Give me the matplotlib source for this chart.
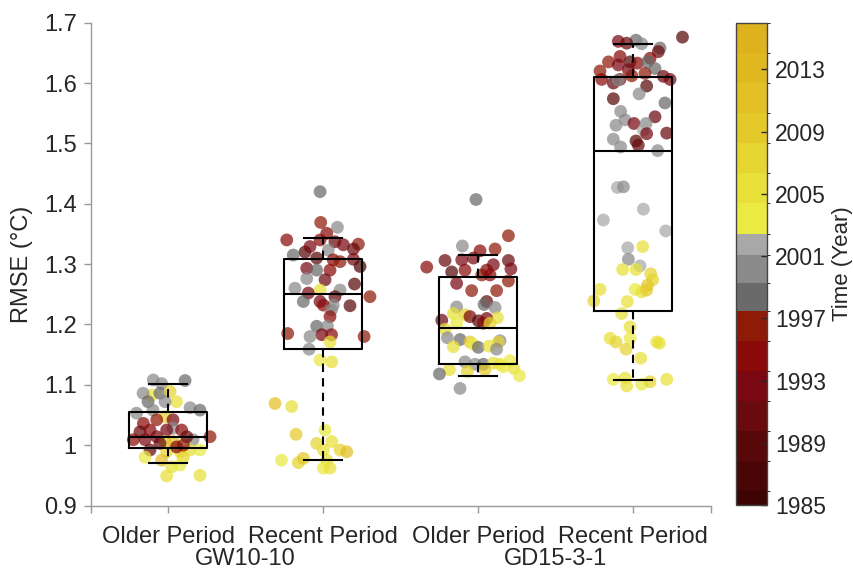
import numpy as np
import matplotlib.pyplot as plt
from matplotlib.colors import ListedColormap, BoundaryNorm
from matplotlib.cm import ScalarMappable

plt.rcParams['font.family'] = ['Liberation Sans', 'DejaVu Sans']

# Group names and tick labels
tick_labels = ['Older Period', 'Recent Period', 'Older Period', 'Recent Period']
site_names = ['GW10-10', 'GD15-3-1']

# Box statistics per group: lower whisker, q1, median, q3, upper whisker
whis_lo = [0.971, 0.975, 1.115, 1.108]
q1 = [0.995, 1.159, 1.134, 1.223]
med = [1.014, 1.250, 1.194, 1.488]
q3 = [1.055, 1.308, 1.278, 1.610]
whis_hi = [1.101, 1.343, 1.315, 1.665]

# Scatter points: horizontal jitter (x units), RMSE, year
g1_dx = [-0.095, -0.041, 0.110, -0.105, -0.161, -0.052, 0.013, -0.129, 0.055, -0.019,
         0.142, 0.206, -0.203, -0.097, -0.019, -0.159, -0.073, 0.032, 0.032, -0.116,
         -0.009, 0.088, -0.181, -0.224, -0.148, -0.073, 0.271, 0.161, 0.121, -0.019,
         0.032, -0.116, -0.009, 0.077, 0.142, 0.206, 0.098, -0.148, -0.041, 0.024,
         0.077, 0.206, -0.009, 0.099, 0.055, -0.052]
g1_y = [1.108, 1.102, 1.107, 1.083, 1.086, 1.086, 1.089, 1.072, 1.072, 1.072,
        1.062, 1.058, 1.053, 1.058, 1.047, 1.036, 1.042, 1.042, 1.028, 1.025,
        1.025, 1.025, 1.022, 1.009, 1.009, 1.014, 1.014, 1.009, 1.014, 1.006,
        1.006, 0.992, 0.989, 0.989, 0.992, 0.992, 0.980, 0.980, 0.975, 0.964,
        0.967, 0.950, 0.949, 1.000, 0.997, 1.003]
g1_yr = [2000, 2001, 1999, 2006, 2000, 1999, 2007, 1999, 2005, 2001,
         2000, 1999, 2001, 2000, 2008, 1994, 1996, 1992, 2000, 1995,
         1993, 1994, 1990, 1995, 1992, 1993, 1996, 2001, 1991, 2010,
         2012, 1990, 2008, 2006, 2005, 2004, 2007, 2004, 2011, 2005,
         2004, 2006, 2005, 1996, 1994, 1991]

g2_dx = [-0.019, -0.015, 0.093, 0.024, -0.234, -0.019, 0.077, 0.131, 0.228, -0.192,
         -0.116, -0.084, 0.034, 0.196, -0.041, 0.066, 0.196, 0.239, -0.105, -0.041,
         0.045, 0.110, -0.105, 0.013, 0.203, -0.181, -0.019, 0.110, -0.095, 0.077,
         0.303, -0.127, -0.019, 0.066, 0.174, 0.002, 0.055, 0.045, -0.041, 0.028,
         -0.228, -0.008, 0.055, -0.084, 0.265, 0.045, -0.090, -0.019, 0.056, -0.310,
         -0.202, -0.174, 0.013, -0.041, 0.056, 0.002, 0.110, 0.153, -0.268, -0.159,
         -0.127, 0.024, 0.002, 0.045]
g2_y = [1.420, 1.369, 1.361, 1.351, 1.340, 1.340, 1.337, 1.332, 1.333, 1.315,
        1.320, 1.329, 1.323, 1.325, 1.310, 1.307, 1.308, 1.296, 1.293, 1.290,
        1.290, 1.304, 1.276, 1.274, 1.267, 1.260, 1.257, 1.257, 1.252, 1.246,
        1.246, 1.238, 1.238, 1.232, 1.231, 1.232, 1.224, 1.213, 1.197, 1.197,
        1.185, 1.183, 1.183, 1.180, 1.180, 1.171, 1.159, 1.141, 1.138, 1.069,
        1.064, 1.018, 1.025, 1.003, 1.006, 0.992, 0.992, 0.989, 0.975, 0.971,
        0.978, 0.975, 0.962, 0.962]
g2_yr = [1998, 1996, 2001, 1995, 1994, 1994, 1990, 1993, 1996, 1999,
         1988, 1992, 2001, 1991, 1989, 1994, 1992, 1987, 1993, 1998,
         1995, 1996, 2001, 1990, 1989, 2001, 2005, 2001, 1993, 1991,
         1996, 1999, 1992, 2000, 1989, 1995, 2001, 1995, 1999, 2000,
         1996, 1992, 1994, 2000, 1996, 2006, 2001, 2004, 2005, 2011,
         2005, 2010, 2004, 2008, 2006, 2005, 2008, 2012, 2004, 2007,
         2009, 2005, 2004, 2006]

g3_dx = [-0.013, 0.196, -0.101, 0.013, 0.110, -0.213, -0.331, -0.105, -0.030, 0.056,
         0.099, 0.196, 0.212, -0.170, -0.084, 0.024, 0.077, 0.196, -0.138, -0.041,
         0.120, 0.056, 0.039, -0.138, 0.110, -0.159, -0.084, -0.052, 0.125, -0.234,
         0.002, 0.056, -0.138, 0.034, 0.077, -0.213, -0.198, -0.116, -0.052, -0.030,
         0.142, 0.131, -0.159, 0.002, 0.071, 0.120, -0.084, -0.019, 0.034, 0.099,
         0.142, 0.206, -0.185, -0.069, 0.045, 0.163, 0.232, 0.267, -0.249, -0.116]
g3_y = [1.407, 1.347, 1.330, 1.322, 1.325, 1.306, 1.295, 1.307, 1.310, 1.290,
        1.299, 1.306, 1.292, 1.287, 1.290, 1.282, 1.282, 1.272, 1.268, 1.256,
        1.256, 1.238, 1.233, 1.229, 1.228, 1.218, 1.216, 1.213, 1.211, 1.207,
        1.206, 1.210, 1.202, 1.202, 1.202, 1.192, 1.178, 1.175, 1.171, 1.167,
        1.173, 1.171, 1.163, 1.162, 1.164, 1.159, 1.138, 1.134, 1.134, 1.136,
        1.134, 1.140, 1.125, 1.122, 1.125, 1.130, 1.127, 1.115, 1.118, 1.094]
g3_yr = [1999, 1996, 2000, 1994, 1996, 1990, 1994, 1992, 1993, 1995,
         1992, 1991, 1993, 1989, 1994, 1996, 1994, 1997, 1993, 1996,
         1996, 1990, 1998, 2000, 2000, 2005, 2007, 1992, 2006, 1991,
         1989, 1993, 2004, 1994, 2008, 2006, 2000, 1999, 2009, 2004,
         2000, 2007, 2005, 1999, 2006, 2001, 2001, 2000, 1999, 2005,
         2006, 2004, 2005, 2007, 2010, 2004, 2005, 2004, 1998, 2000]

g4_dx = [0.319, -0.095, 0.019, -0.041, 0.056, 0.174, 0.163, -0.084, 0.110, -0.158,
         -0.095, -0.019, 0.028, 0.093, -0.213, -0.030, 0.142, 0.077, -0.084, -0.202,
         -0.127, 0.196, 0.239, -0.008, -0.095, 0.088, 0.039, -0.127, 0.206, -0.080,
         0.142, -0.052, -0.110, 0.006, 0.084, 0.067, 0.088, 0.217, -0.127, 0.019,
         0.034, -0.080, 0.159, -0.101, -0.062, 0.067, -0.191, 0.211, -0.034, 0.062,
         -0.030, 0.045, -0.067, 0.019, 0.114, 0.127, 0.093, -0.213, 0.013, 0.056,
         0.088, -0.253, -0.037, -0.073, -0.019, -0.148, -0.110, -0.019, 0.153, 0.170,
         -0.045, 0.050, -0.127, -0.052, -0.041, 0.056, 0.110, 0.217]
g4_y = [1.676, 1.669, 1.671, 1.666, 1.665, 1.658, 1.652, 1.644, 1.641, 1.635,
        1.630, 1.635, 1.633, 1.635, 1.620, 1.622, 1.624, 1.616, 1.606, 1.606,
        1.600, 1.611, 1.606, 1.612, 1.605, 1.595, 1.582, 1.574, 1.567, 1.553,
        1.544, 1.539, 1.530, 1.533, 1.533, 1.522, 1.516, 1.517, 1.507, 1.504,
        1.497, 1.494, 1.488, 1.427, 1.428, 1.391, 1.373, 1.355, 1.327, 1.329,
        1.308, 1.297, 1.291, 1.291, 1.284, 1.274, 1.265, 1.258, 1.258, 1.254,
        1.257, 1.239, 1.238, 1.218, 1.196, 1.177, 1.171, 1.177, 1.171, 1.169,
        1.159, 1.144, 1.109, 1.111, 1.098, 1.101, 1.105, 1.109]
g4_yr = [1988, 1993, 1999, 1990, 2000, 1998, 1991, 1994, 1995, 1996,
         1992, 1989, 1995, 1999, 1996, 1993, 1999, 1996, 1994, 1995,
         1990, 1991, 1992, 1996, 2000, 1989, 2000, 1988, 1999, 2001,
         1990, 2001, 2001, 1992, 2000, 2002, 1993, 1991, 2001, 1989,
         1990, 2001, 2000, 2002, 2001, 2002, 2002, 2002, 2002, 2005,
         2001, 2002, 2006, 2005, 2008, 2007, 2009, 2005, 2004, 2006,
         2010, 2007, 2006, 2005, 2006, 2005, 2007, 2004, 2006, 2005,
         2007, 2005, 2004, 2006, 2005, 2004, 2007, 2005]

# Discrete year colormap: reds, greys, yellows
year_bounds = [1985, 1985.88, 1987.81, 1989.75, 1991.69, 1993.63, 1995.56, 1997.5,
               1999.3, 2001.1, 2002.44, 2004.38, 2006.31, 2008.25, 2010.19,
               2012.13, 2014.06, 2016]
year_colors = ['#3e0404', '#4a0606', '#580808', '#680a0e', '#7a0812', '#8a0a0a', '#8e1a08',
               '#6a6a6a', '#8a8a8a', '#a8a8a8',
               '#eaea42', '#e8e038', '#e6d530', '#e4c92a', '#e2c026', '#e0b820', '#deb21e']
cmap = ListedColormap(year_colors)
norm = BoundaryNorm(year_bounds, cmap.N)

fig = plt.figure(figsize=(8.54, 5.71), dpi=100)
ax = fig.add_axes([0.106, 0.1147, 0.726, 0.8456])
cax = fig.add_axes([0.8618, 0.1156, 0.0363, 0.8446])

groups = [(g1_dx, g1_y, g1_yr), (g2_dx, g2_y, g2_yr),
          (g3_dx, g3_y, g3_yr), (g4_dx, g4_y, g4_yr)]
for i, (dx, y, yr) in enumerate(groups):
    ax.scatter(np.array(dx) + i + 1, y, c=yr, cmap=cmap, norm=norm,
               s=85, alpha=0.72, linewidths=0, zorder=2)

stats = [dict(whislo=whis_lo[i], q1=q1[i], med=med[i], q3=q3[i],
              whishi=whis_hi[i], fliers=[]) for i in range(4)]
ax.bxp(stats, positions=[1, 2, 3, 4], widths=0.5, showfliers=False,
       boxprops=dict(color='black', linewidth=1.5),
       medianprops=dict(color='black', linewidth=1.5),
       whiskerprops=dict(color='black', linewidth=1.5, linestyle=(0, (4, 3))),
       capprops=dict(color='black', linewidth=1.5),
       capwidths=0.25, zorder=3)

ax.set_xlim(0.5, 4.5)
ax.set_ylim(0.9, 1.7)
ax.set_xticks([0.5, 1, 2, 3, 4, 4.5])
ax.set_xticklabels([''] + tick_labels + [''])
ax.set_yticks(np.arange(0.9, 1.71, 0.1))
ax.set_yticklabels(['0.9', '1', '1.1', '1.2', '1.3', '1.4', '1.5', '1.6', '1.7'])
ax.tick_params(direction='out', length=5, width=1, color='#999999',
               labelcolor='#262626', labelsize=17)
ax.tick_params(axis='x', pad=10)
ax.tick_params(axis='y', pad=5)
for side in ['top', 'right']:
    ax.spines[side].set_visible(False)
for side in ['left', 'bottom']:
    ax.spines[side].set_color('#999999')
    ax.spines[side].set_linewidth(1)
ax.set_ylabel('RMSE (°C)', fontsize=17, color='#262626', labelpad=8)

for k, name in enumerate(site_names):
    ax.text(1.5 + 2 * k, -0.111, name, transform=ax.get_xaxis_transform(),
            ha='center', va='center', fontsize=17, color='#262626')

cb = fig.colorbar(ScalarMappable(norm=norm, cmap=cmap), cax=cax,
                  spacing='proportional', ticks=np.arange(1985, 2014, 4))
cb.ax.tick_params(direction='in', length=4, width=1, color='#262626',
                  labelcolor='#262626', labelsize=16.5, pad=6)
cb.outline.set_edgecolor('#444444')
cb.outline.set_linewidth(1)
cb.set_label('Time (Year)', fontsize=16, color='#262626', rotation=90, va='center')
cb.ax.yaxis.set_label_coords(3.45, 0.5)

fig.savefig('out.png', dpi=100)
